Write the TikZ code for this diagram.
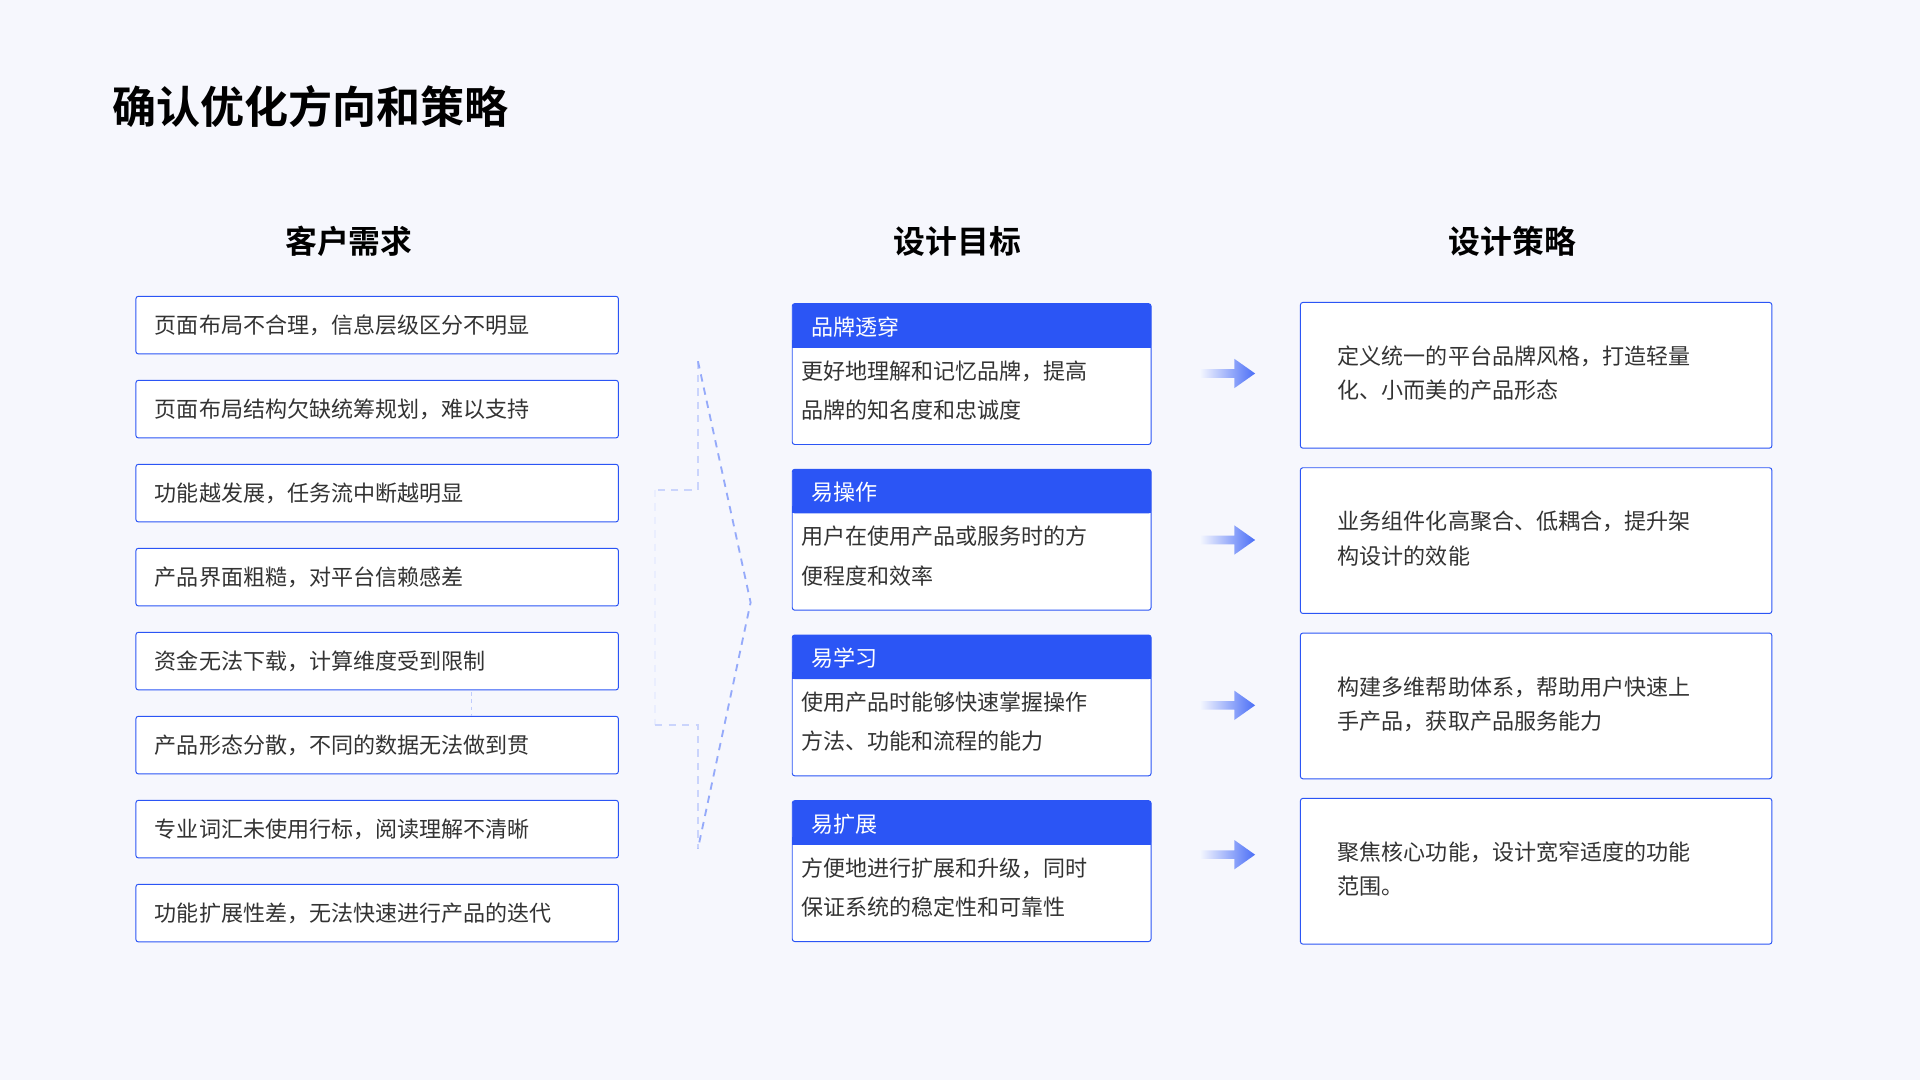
\documentclass[tikz,border=0pt]{standalone}
\usepackage{fontspec}
\setmainfont{Noto Sans CJK SC}
\newfontfamily\cjkb{Noto Sans CJK SC}[BoldFont={* Bold}]
\usetikzlibrary{shadings}
\definecolor{bg}{HTML}{F6F7FD}
\definecolor{bl}{HTML}{2B55F5}
\definecolor{tx}{HTML}{333333}
\begin{document}
\begin{tikzpicture}[x=1pt,y=-1pt,
 lbox/.style={draw=bl,line width=0.8pt,fill=white,rounded corners=2pt},
 ltxt/.style={anchor=west,font=\fontsize{18}{22}\selectfont,text=tx},
 htxt/.style={anchor=west,font=\fontsize{18}{22}\selectfont,text=white},
 btxt/.style={anchor=north west,align=left,font=\fontsize{18}{32}\selectfont,text=tx},
 rtxt/.style={anchor=north west,align=left,font=\fontsize{18}{28}\selectfont,text=tx},
 head/.style={font=\cjkb\bfseries\fontsize{26}{30}\selectfont,text=black},
 dsh/.style={dashed,dash pattern=on 6pt off 5pt,line width=1.5pt}]
\fill[bg] (0,0) rectangle (1568,882);
\useasboundingbox (0,0) rectangle (1568,882);
\node[head,anchor=west,font=\cjkb\bfseries\fontsize{36}{40}\selectfont] (title) at (88,87) {确认优化方向和策略};
\node[head] (h1) at (285,197) {客户需求};
\node[head] (h2) at (782,197) {设计目标};
\node[head] (h3) at (1235,197) {设计策略};
% left
\foreach \t [count=\i] in {页面布局不合理，信息层级区分不明显,页面布局结构欠缺统筹规划，难以支持,功能越发展，任务流中断越明显,产品界面粗糙，对平台信赖感差,资金无法下载，计算维度受到限制,产品形态分散，不同的数据无法做到贯,专业词汇未使用行标，阅读理解不清晰,功能扩展性差，无法快速进行产品的迭代}{
 \pgfmathsetmacro\yy{242+(\i-1)*68.6}
 \draw[lbox] (111,\yy) rectangle (505,\yy+47);
 \node[ltxt] (l\i) at (123,\yy+24) {\t};
}
\draw[bl!30,dashed,line width=0.6pt] (385,565) -- (385,585);
% dashed brace
\draw[dsh,bl!25] (570,295) -- (570,400) -- (535,400);
\draw[dsh,bl!10] (535,400) -- (535,592);
\draw[dsh,bl!25] (535,592) -- (570,592) -- (570,693);
\draw[dsh,bl!50] (570,295) -- (613,492) -- (570,693);
% middle
\foreach \h/\a/\b [count=\i] in {品牌透穿/更好地理解和记忆品牌，提高/品牌的知名度和忠诚度,易操作/用户在使用产品或服务时的方/便程度和效率,易学习/使用产品时能够快速掌握操作/方法、功能和流程的能力,易扩展/方便地进行扩展和升级，同时/保证系统的稳定性和可靠性}{
 \pgfmathsetmacro\yy{248+(\i-1)*135.3}
 \draw[lbox] (647,\yy) rectangle (940,\yy+115);
 \fill[bl,rounded corners=2pt] (647,\yy) rectangle (940,\yy+36);
 \fill[bl] (647,\yy+30) rectangle (940,\yy+36);
 \node[htxt] (m\i) at (659,\yy+19) {\h};
 \node[btxt] (mb\i) at (651,\yy+43) {\a\\\b};
}
% right
\foreach \a/\b [count=\i] in {定义统一的平台品牌风格，打造轻量/化、小而美的产品形态,业务组件化高聚合、低耦合，提升架/构设计的效能,构建多维帮助体系，帮助用户快速上/手产品，获取产品服务能力,聚焦核心功能，设计宽窄适度的功能/范围。}{
 \pgfmathsetmacro\yy{247+(\i-1)*135}
 \draw[lbox] (1062,\yy) rectangle (1447,\yy+119);
 \node[rtxt] (r\i) at (1089,\yy+32) {\a\\\b};
}
% arrows
\foreach \y [count=\i] in {305,441,576,698}{
 \shade[left color=bl!5,right color=bl!85] (980,\y-3.5) -- (1008,\y-3.5) -- (1008,\y-12) -- (1025,\y) -- (1008,\y+12) -- (1008,\y+3.5) -- (980,\y+3.5) -- cycle;
}
\end{tikzpicture}
\end{document}
